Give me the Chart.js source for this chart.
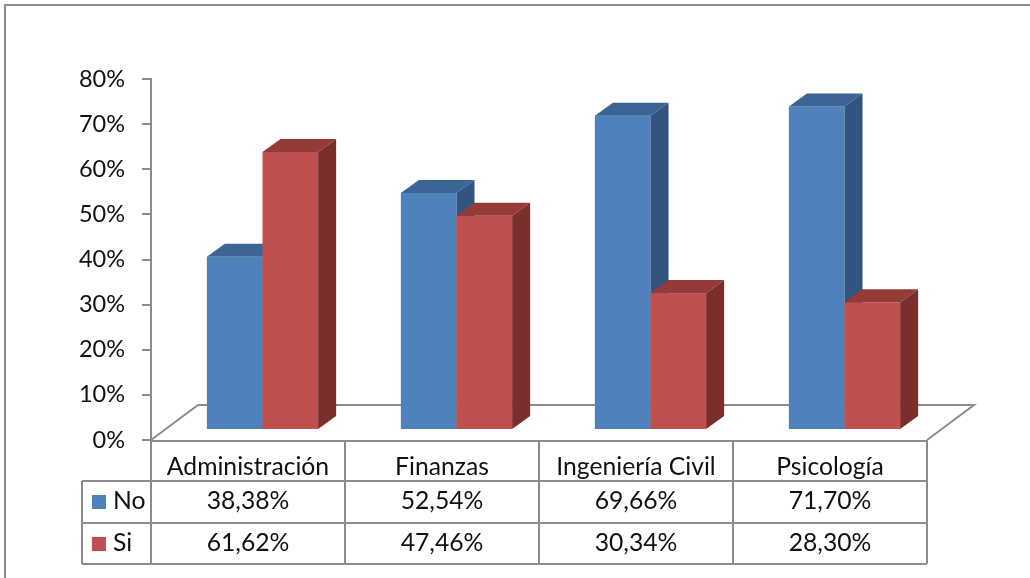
<!DOCTYPE html>
<html lang="es">
<head>
<meta charset="utf-8">
<title>No / Si por carrera</title>
<script src="https://cdn.jsdelivr.net/npm/chart.js@4.4.1/dist/chart.umd.min.js"></script>
<style>
  html, body { margin: 0; padding: 0; background: #ffffff; }
  #grafico { display: block; }
</style>
</head>
<body>
<canvas id="grafico" width="1030" height="578"></canvas>
<script>
// Datos
const CATEGORIAS = ['Administración', 'Finanzas', 'Ingeniería Civil', 'Psicología'];
const SERIES = ['No', 'Si'];
const VALORES_NO = [38.38, 52.54, 69.66, 71.70];
const VALORES_SI = [61.62, 47.46, 30.34, 28.30];
const EJE_Y_MIN = 0;
const EJE_Y_MAX = 80;
const EJE_Y_PASO = 10;

const COLORES = [
    { frente: '#4F81BD', arriba: '#3C6494', lado: '#32557F' },
    { frente: '#C0504D', arriba: '#943A37', lado: '#7B2F2D' }
];
const GRIS = '#8C8C8C';
const FUENTE = 'Lato, "Liberation Sans", sans-serif';

// Desplazamientos del efecto 3D
const BARRA_DX = 14.5;   // las barras están dentro del piso
const BARRA_DY = 10;
const PROF_DX = 18;      // profundidad de cada barra
const PROF_DY = 13;
const PISO_DX = 47;      // profundidad del piso
const PISO_DY = 35;

function formatoPorcentaje(v) {
    return v.toFixed(2).replace('.', ',') + '%';
}

function linea(ctx, x1, y1, x2, y2) {
    ctx.beginPath();
    ctx.moveTo(x1, y1);
    ctx.lineTo(x2, y2);
    ctx.stroke();
}

// Piso en perspectiva, se dibuja antes de las barras
const pisoPlugin = {
    id: 'piso',
    beforeDatasetsDraw(chart) {
        const { ctx, chartArea } = chart;
        const { left, right, bottom } = chartArea;
        ctx.save();
        ctx.strokeStyle = GRIS;
        ctx.lineWidth = 2;
        ctx.beginPath();
        ctx.moveTo(left, bottom);
        ctx.lineTo(left + PISO_DX, bottom - PISO_DY);
        ctx.lineTo(right + PISO_DX, bottom - PISO_DY);
        ctx.lineTo(right, bottom);
        ctx.stroke();
        ctx.restore();
    }
};

function dibujarBarra(ctx, barra, color) {
    const x0 = barra.x - barra.width / 2 + BARRA_DX;
    const x1 = barra.x + barra.width / 2 + BARRA_DX;
    const yArriba = barra.y - BARRA_DY;
    const yBase = barra.base - BARRA_DY;

    // cara frontal
    ctx.fillStyle = color.frente;
    ctx.fillRect(x0, yArriba, x1 - x0, yBase - yArriba);

    // cara superior
    ctx.fillStyle = color.arriba;
    ctx.beginPath();
    ctx.moveTo(x0, yArriba);
    ctx.lineTo(x0 + PROF_DX, yArriba - PROF_DY);
    ctx.lineTo(x1 + PROF_DX, yArriba - PROF_DY);
    ctx.lineTo(x1, yArriba);
    ctx.closePath();
    ctx.fill();

    // cara lateral
    ctx.fillStyle = color.lado;
    ctx.beginPath();
    ctx.moveTo(x1, yArriba);
    ctx.lineTo(x1 + PROF_DX, yArriba - PROF_DY);
    ctx.lineTo(x1 + PROF_DX, yBase - PROF_DY);
    ctx.lineTo(x1, yBase);
    ctx.closePath();
    ctx.fill();
}

// Barras 3D a partir de los elementos que calcula Chart.js
const barras3dPlugin = {
    id: 'barras3d',
    afterDatasetsDraw(chart) {
        const ctx = chart.ctx;
        ctx.save();
        CATEGORIAS.forEach((_, j) => {
            chart.data.datasets.forEach((ds, i) => {
                const el = chart.getDatasetMeta(i).data[j];
                const props = el.getProps(['x', 'y', 'base', 'width'], true);
                dibujarBarra(ctx, props, COLORES[i]);
            });
        });
        ctx.restore();
    }
};

// Tabla de datos debajo del eje y marco exterior
const tablaPlugin = {
    id: 'tabla',
    afterDraw(chart) {
        const { ctx, chartArea } = chart;
        const escalaX = chart.scales.x;
        const { left, right, bottom } = chartArea;
        const anchoCol = (right - left) / CATEGORIAS.length;
        const filaEnc = bottom + 41;
        const filaNo = filaEnc + 42;
        const filaSi = filaNo + 41;
        const izqLeyenda = 82;

        ctx.save();
        ctx.strokeStyle = GRIS;
        ctx.lineWidth = 2;

        // horizontales
        linea(ctx, left, bottom + 1, right, bottom + 1);
        linea(ctx, izqLeyenda, filaEnc, right, filaEnc);
        linea(ctx, izqLeyenda, filaNo, right, filaNo);
        linea(ctx, izqLeyenda, filaSi, right, filaSi);

        // verticales
        for (let k = 0; k <= CATEGORIAS.length; k++) {
            const x = left + k * anchoCol;
            linea(ctx, x, bottom, x, filaSi);
        }
        linea(ctx, izqLeyenda, filaEnc, izqLeyenda, filaSi);

        // textos
        ctx.fillStyle = '#111111';
        ctx.font = '24.7px ' + FUENTE;
        ctx.textAlign = 'center';
        ctx.textBaseline = 'alphabetic';
        CATEGORIAS.forEach((cat, j) => {
            const xc = escalaX.getPixelForValue(j);
            ctx.fillText(cat, xc, bottom + 35);
            ctx.fillText(formatoPorcentaje(VALORES_NO[j]), xc, filaEnc + 28);
            ctx.fillText(formatoPorcentaje(VALORES_SI[j]), xc, filaNo + 28);
        });

        // leyenda en la tabla
        ctx.textAlign = 'left';
        [filaEnc, filaNo].forEach((y, i) => {
            ctx.fillStyle = COLORES[i].frente;
            ctx.fillRect(92, y + 14, 14, 14);
            ctx.fillStyle = '#111111';
            ctx.fillText(SERIES[i], 113, y + 28);
        });

        // marco
        ctx.strokeStyle = '#8A8A8A';
        ctx.beginPath();
        ctx.moveTo(5, chart.height);
        ctx.lineTo(5, 5);
        ctx.lineTo(chart.width, 5);
        ctx.stroke();
        ctx.restore();
    }
};

function crearGrafico() {
    const ctx = document.getElementById('grafico').getContext('2d');
    return new Chart(ctx, {
        type: 'bar',
        data: {
            labels: CATEGORIAS,
            datasets: [
                { label: SERIES[0], data: VALORES_NO, backgroundColor: 'rgba(0,0,0,0)' },
                { label: SERIES[1], data: VALORES_SI, backgroundColor: 'rgba(0,0,0,0)' }
            ]
        },
        options: {
            responsive: false,
            animation: false,
            layout: { padding: { left: 0, top: 79, right: 103, bottom: 138 } },
            datasets: {
                bar: { categoryPercentage: 0.5736, barPercentage: 1, borderWidth: 0 }
            },
            scales: {
                x: { display: false },
                y: {
                    min: EJE_Y_MIN,
                    max: EJE_Y_MAX,
                    afterFit(escala) { escala.width = 151; },
                    border: { display: true, color: GRIS, width: 2 },
                    grid: { drawOnChartArea: false, drawTicks: true, tickLength: 9, color: GRIS, lineWidth: 2 },
                    ticks: {
                        stepSize: EJE_Y_PASO,
                        padding: 17,
                        color: '#111111',
                        font: { family: FUENTE, size: 23.5 },
                        callback: v => v + '%'
                    }
                }
            },
            plugins: {
                legend: { display: false },
                tooltip: { enabled: false },
                title: { display: false }
            }
        },
        plugins: [pisoPlugin, barras3dPlugin, tablaPlugin]
    });
}

document.addEventListener('DOMContentLoaded', crearGrafico);
</script>
</body>
</html>
